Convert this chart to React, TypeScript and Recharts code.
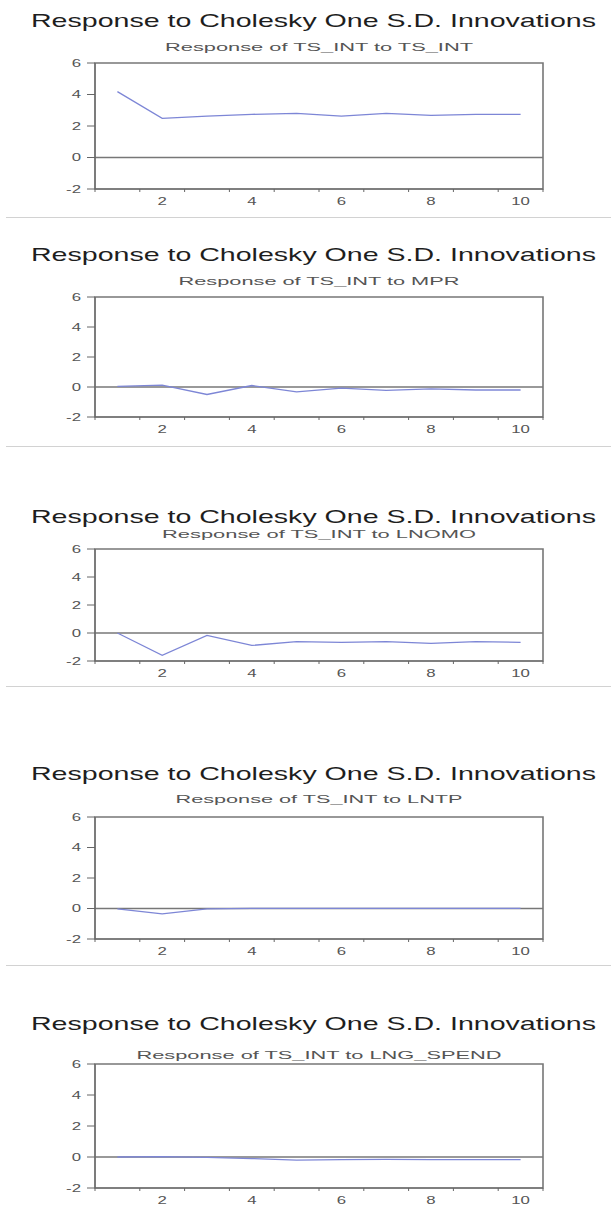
import * as React from "react";
import { LineChart, Line, XAxis, YAxis, ReferenceLine, ReferenceArea } from "recharts";

const periods = [1, 2, 3, 4, 5, 6, 7, 8, 9, 10];
const bandEdges = [0.5, 1.5, 2.5, 3.5, 4.5, 5.5, 6.5, 7.5, 8.5, 9.5, 10.5];
const periodLabels = [2, 4, 6, 8, 10];
const yTicks = [-2, 0, 2, 4, 6];

const tsIntToTsInt = [4.18, 2.49, 2.63, 2.74, 2.8, 2.63, 2.8, 2.68, 2.74, 2.74];
const tsIntToMpr = [0.04, 0.12, -0.5, 0.1, -0.33, -0.07, -0.22, -0.13, -0.2, -0.2];
const tsIntToLnomo = [0.0, -1.6, -0.17, -0.89, -0.62, -0.67, -0.62, -0.74, -0.62, -0.67];
const tsIntToLntp = [-0.02, -0.35, -0.03, 0.01, 0.01, 0.01, 0.01, 0.01, 0.01, 0.01];
const tsIntToLngSpend = [0.0, 0.03, -0.02, -0.1, -0.2, -0.17, -0.15, -0.17, -0.17, -0.17];

const mainTitle = "Response to Cholesky One S.D. Innovations";

const FONT = "'Liberation Sans', Arial, sans-serif";
const PLOT_LEFT = 95;
const PLOT_RIGHT = 543;

// layout of each stacked panel (page pixels)
const panels = [
  { sub: "Response of TS_INT to TS_INT", values: tsIntToTsInt, titleY: 20, subY: 47, subW: 308, top: 63, bottom: 189 },
  { sub: "Response of TS_INT to MPR", values: tsIntToMpr, titleY: 254, subY: 281, subW: 281, top: 297, bottom: 417 },
  { sub: "Response of TS_INT to LNOMO", values: tsIntToLnomo, titleY: 516, subY: 534, subW: 314, top: 549, bottom: 661 },
  { sub: "Response of TS_INT to LNTP", values: tsIntToLntp, titleY: 773, subY: 799, subW: 287, top: 817, bottom: 939 },
  { sub: "Response of TS_INT to LNG_SPEND", values: tsIntToLngSpend, titleY: 1023, subY: 1055, subW: 365, top: 1064, bottom: 1188 },
];

const separators = [217, 446, 686, 965];

const YTick = (props: any) => {
  const { x, y, payload } = props;
  return (
    <text
      transform={`translate(${x},${y}) scale(1.6,1)`}
      textAnchor="end"
      dominantBaseline="central"
      fontSize={10.5}
      fontFamily={FONT}
      fill="#555"
    >
      {payload.value}
    </text>
  );
};

const XTick = (props: any) => {
  const { x, y, payload } = props;
  return (
    <text
      transform={`translate(${x},${y}) scale(1.6,1)`}
      textAnchor="middle"
      dominantBaseline="central"
      fontSize={10.5}
      fontFamily={FONT}
      fill="#555"
    >
      {payload.value}
    </text>
  );
};

function Panel({ p }: { p: (typeof panels)[number] }) {
  const data = periods.map((period, i) => ({ period, value: p.values[i] }));
  const plotH = p.bottom - p.top;
  const padTop = 10;
  return (
    <div style={{ position: "absolute", left: 0, top: p.top - padTop }}>
      <LineChart
        width={611}
        height={plotH + padTop + 24}
        data={data}
        margin={{ top: padTop, right: 611 - PLOT_RIGHT, bottom: 0, left: 0 }}
      >
        <XAxis
          xAxisId="bands"
          dataKey="period"
          type="number"
          domain={[0.5, 10.5]}
          ticks={bandEdges}
          interval={0}
          height={4}
          tickSize={3}
          stroke="#666"
          tick={() => <g />}
        />
        <XAxis
          xAxisId="labels"
          dataKey="period"
          type="number"
          domain={[0.5, 10.5]}
          ticks={periodLabels}
          interval={0}
          height={20}
          axisLine={false}
          tickLine={false}
          tick={<XTick />}
        />
        <YAxis
          domain={[-2, 6]}
          ticks={yTicks}
          interval={0}
          width={PLOT_LEFT}
          tickSize={8}
          tickMargin={6}
          stroke="#666"
          tick={<YTick />}
        />
        <ReferenceArea
          xAxisId="bands"
          x1={0.5}
          x2={10.5}
          y1={-2}
          y2={6}
          fill="none"
          stroke="#777"
          strokeWidth={1.6}
        />
        <ReferenceLine xAxisId="bands" y={0} stroke="#777" strokeWidth={1.5} />
        <Line
          xAxisId="bands"
          type="linear"
          dataKey="value"
          stroke="#7d86d6"
          strokeWidth={1.3}
          dot={false}
          isAnimationActive={false}
        />
      </LineChart>
    </div>
  );
}

export default function App() {
  return (
    <div style={{ position: "absolute", left: 0, top: 0, width: 611, height: 1212, background: "#fff" }}>
      <svg width={611} height={1212} style={{ position: "absolute", left: 0, top: 0 }}>
        {panels.map((p) => (
          <g key={p.sub} fontFamily={FONT}>
            <text
              x={31}
              y={p.titleY}
              dominantBaseline="central"
              fontSize={19}
              fill="#1e1e1e"
              textLength={565}
              lengthAdjust="spacingAndGlyphs"
            >
              {mainTitle}
            </text>
            <text
              x={(PLOT_LEFT + PLOT_RIGHT) / 2}
              y={p.subY}
              textAnchor="middle"
              dominantBaseline="central"
              fontSize={11.5}
              fill="#555"
              textLength={p.subW}
              lengthAdjust="spacingAndGlyphs"
            >
              {p.sub}
            </text>
          </g>
        ))}
        {separators.map((y) => (
          <line key={y} x1={6} x2={611} y1={y + 0.5} y2={y + 0.5} stroke="#d2d2d2" strokeWidth={1} />
        ))}
      </svg>
      {panels.map((p) => (
        <Panel key={p.sub} p={p} />
      ))}
    </div>
  );
}
